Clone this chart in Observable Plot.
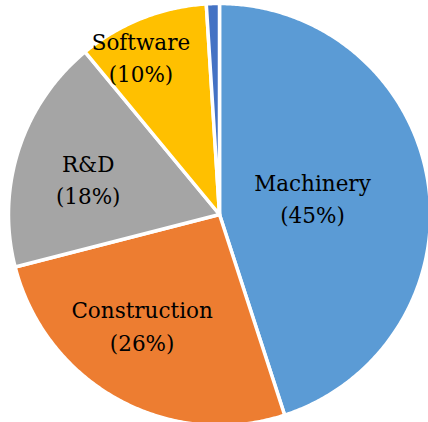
<!DOCTYPE html>
<html>
<head>
<meta charset="utf-8">
<script src="https://cdn.jsdelivr.net/npm/d3@7"></script>
<script src="https://cdn.jsdelivr.net/npm/@observablehq/plot@0.6"></script>
<style>
  html, body { margin: 0; padding: 0; background: #fff; overflow: hidden; }
  svg { display: block; }
</style>
</head>
<body>
<div id="chart"></div>
<script>
// Data
const categories = ["Machinery", "Construction", "R&D", "Software", "Other"];
const shares = [45, 26, 18, 10, 1];
const showLabel = [true, true, true, true, false];
const colors = ["#5B9BD5", "#ED7D31", "#A5A5A5", "#FFC000", "#4472C4"];

// Layout (label placement: angle in degrees clockwise from top, radius fraction)
const labelPlacement = {
  "Machinery": [82, 0.445],
  "Construction": [214, 0.656],
  "R&D": [283.5, 0.64],
  "Software": [333, 0.82]
};

const rows = categories.map((c, i) => ({category: c, share: shares[i], label: showLabel[i]}));
const arcs = d3.pie().value(d => d.share).sort(null).startAngle(0).endAngle(2 * Math.PI)(rows);

const polys = [];
for (const a of arcs) {
  const n = Math.max(2, Math.ceil((a.endAngle - a.startAngle) / (Math.PI / 360)));
  polys.push({category: a.data.category, x: 0, y: 0});
  for (let k = 0; k <= n; k++) {
    const t = a.startAngle + (a.endAngle - a.startAngle) * k / n;
    polys.push({category: a.data.category, x: Math.sin(t), y: Math.cos(t)});
  }
  polys.push({category: a.data.category, x: 0, y: 0});
}

const labels = arcs.filter(a => a.data.label).map(a => {
  const [deg, r] = labelPlacement[a.data.category];
  const t = deg * Math.PI / 180;
  return {category: a.data.category, x: r * Math.sin(t), y: r * Math.cos(t),
          text: `${a.data.category}\n(${a.data.share}%)`};
});

const cx = 219, cy = 214, R = 211;
const chart = Plot.plot({
  width: 428,
  height: 422,
  margin: 0,
  x: {domain: [-1, 1], range: [cx - R, cx + R], axis: null},
  y: {domain: [-1, 1], range: [cy + R, cy - R], axis: null},
  color: {domain: categories, range: colors},
  style: {background: "#fff", overflow: "hidden"},
  marks: [
    Plot.line(polys, {x: "x", y: "y", z: "category", fill: "category", stroke: "#fff", strokeWidth: 3.5, strokeLinejoin: "round", curve: "linear"}),
    Plot.text(labels, {x: "x", y: "y", dy: -5, text: "text", fontSize: 21.5, fontFamily: "DejaVu Serif", fill: "#000", lineHeight: 1.5, lineAnchor: "middle"})
  ]
});
document.getElementById("chart").appendChild(chart);
</script>
</body>
</html>
